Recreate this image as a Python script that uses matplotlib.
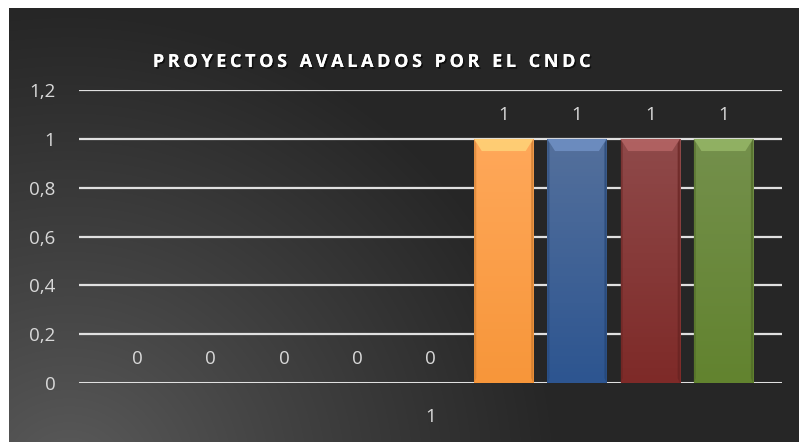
import matplotlib
matplotlib.use("Agg")
import matplotlib.pyplot as plt
import matplotlib.patheffects as pe
from matplotlib.patches import Polygon
from matplotlib.ticker import FuncFormatter
import numpy as np

# === Data ===
TITLE = "PROYECTOS AVALADOS POR EL CNDC"
category = "1"
values = [0, 0, 0, 0, 0, 1, 1, 1, 1]
yticks = [0, 0.2, 0.4, 0.6, 0.8, 1.0, 1.2]

# (top colour, bottom colour) per series; first five are zero-height
bar_colors = [
    ("#ffa85a", "#f7963a"),
    ("#ffa85a", "#f7963a"),
    ("#ffa85a", "#f7963a"),
    ("#ffa85a", "#f7963a"),
    ("#ffa85a", "#f7963a"),
    ("#ffa85a", "#f7963a"),
    ("#54709c", "#2d5590"),
    ("#8f4a4a", "#7e2a28"),
    ("#74904c", "#62832f"),
]

TXT = "#d9d9d9"
plt.rcParams.update({
    "font.family": ["Open Sans", "DejaVu Sans"],
    "font.size": 13,
})

W, H = 799, 442
fig = plt.figure(figsize=(W / 100, H / 100), dpi=100)
fig.patch.set_facecolor("white")

# --- background panel with radial highlight in lower-left corner ---
bg = fig.add_axes([9 / W, 0, (W - 9) / W, (H - 8) / H])
bg.set_axis_off()
yy, xx = np.mgrid[0:434, 0:790]
r = np.sqrt(((xx - 60) / 1.05) ** 2 + ((yy - 470) / 1.0) ** 2)
t = np.clip(r / 470, 0, 1) ** 0.9
dark = np.array([0x26, 0x26, 0x26]) / 255
light = np.array([0x5c, 0x5c, 0x5c]) / 255
img = light[None, None, :] * (1 - t[..., None]) + dark[None, None, :] * t[..., None]
bg.imshow(img, aspect="auto", extent=(0, 1, 0, 1), origin="upper")
bg.set_xlim(0, 1)
bg.set_ylim(0, 1)

# --- main plot ---
ax = fig.add_axes([79 / W, 1 - 383 / H, (782 - 79) / W, (383 - 90) / H])
ax.patch.set_alpha(0)
x = np.arange(len(values))
ax.set_xlim(-0.8, len(values) - 0.2)
ax.set_ylim(0, 1.2)
ax.set_yticks(yticks)
ax.yaxis.set_major_formatter(FuncFormatter(lambda v, p: f"{v:g}".replace(".", ",")))
ax.set_xticks([(len(values) - 1) / 2])
ax.set_xticklabels([category])
ax.tick_params(axis="both", length=0, colors=TXT, labelsize=13.5)
ax.tick_params(axis="y", pad=17)
ax.tick_params(axis="x", pad=18)
for s in ax.spines.values():
    s.set_visible(False)
for yv in yticks:
    ax.axhline(yv, color="#e0e0e0", lw=1.6 if yv else 2.2, zorder=1)

width = 0.81
bars = ax.bar(x, values, width=width, color=[c[1] for c in bar_colors], zorder=2,
              edgecolor="none")

# gradient fill + bevel on each bar
grad = np.linspace(0, 1, 64)[:, None]
for b, (top, bot), v in zip(bars, bar_colors, values):
    if v <= 0:
        continue
    x0, w, h = b.get_x(), b.get_width(), b.get_height()
    c1 = np.array(matplotlib.colors.to_rgb(top))
    c2 = np.array(matplotlib.colors.to_rgb(bot))
    g = c1[None, None, :] * (1 - grad[..., None]) + c2[None, None, :] * grad[..., None]
    im = ax.imshow(np.repeat(g, 2, axis=1), extent=(x0, x0 + w, 0, h), aspect="auto",
                   origin="upper", zorder=3)
    im.set_clip_path(b)
    bx, by = w * 0.13, 0.05
    hi = np.clip(c1 * 1.18 + 0.06, 0, 1)
    ax.add_patch(Polygon([(x0, h), (x0 + w, h), (x0 + w - bx, h - by), (x0 + bx, h - by)],
                         closed=True, facecolor=hi, edgecolor="none", alpha=0.8, zorder=4))
    sd = c2 * 0.8
    ax.add_patch(Polygon([(x0 + w, h), (x0 + w, 0), (x0 + w - 0.03, 0.02), (x0 + w - 0.03, h - 0.02)],
                         closed=True, facecolor=sd, edgecolor="none", alpha=0.7, zorder=4))
    ax.add_patch(Polygon([(x0, h), (x0, 0), (x0 + 0.03, 0.02), (x0 + 0.03, h - 0.02)],
                         closed=True, facecolor=sd, edgecolor="none", alpha=0.5, zorder=4))

# data labels
for xi, v in zip(x, values):
    ax.annotate(f"{v:g}", (xi, v), xytext=(0, 17), textcoords="offset points",
                ha="center", va="center", color=TXT, fontsize=13.5)

# spaced-out title
spaced = "\u2009".join(TITLE).replace("\u2009 \u2009", "\u2002\u2009")
fig.text(371 / W, 1 - 62 / H, spaced, ha="center", va="center", color="white",
         fontsize=13, fontweight="bold",
         path_effects=[pe.withSimplePatchShadow(offset=(1.2, -1.2), shadow_rgbFace="black", alpha=0.6),
                       pe.Normal()])

fig.savefig("out.png", dpi=100, facecolor=fig.get_facecolor())
